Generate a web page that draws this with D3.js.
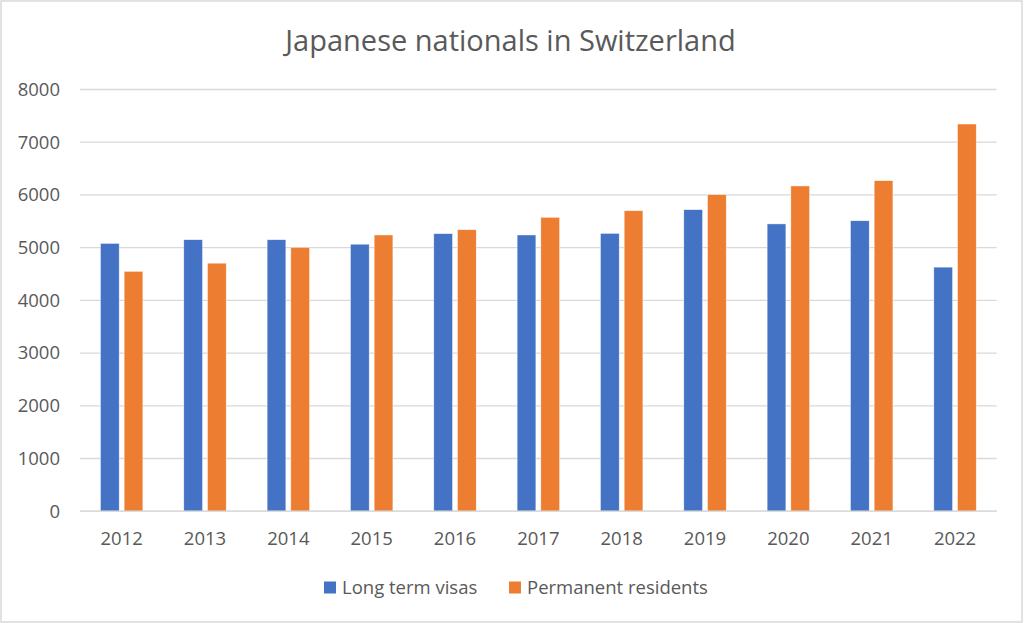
<!DOCTYPE html>
<html>
<head>
<meta charset="utf-8">
<script src="https://cdn.jsdelivr.net/npm/d3@7"></script>
<style>
  body { margin: 0; background: #fff; }
  svg text { font-family: "Open Sans", "Liberation Sans", sans-serif; fill: #595959; }
</style>
</head>
<body>
<svg id="chart" width="1024" height="623"></svg>
<script>
// data
var years = ["2012", "2013", "2014", "2015", "2016", "2017", "2018", "2019", "2020", "2021", "2022"];
var longTermVisas = [5080, 5150, 5150, 5065, 5265, 5240, 5270, 5720, 5450, 5510, 4630];
var permanentResidents = [4550, 4705, 5005, 5240, 5340, 5575, 5700, 6005, 6170, 6270, 7345];
var seriesNames = ["Long term visas", "Permanent residents"];
var seriesColors = ["#4472C4", "#ED7D31"];
var yTicks = [0, 1000, 2000, 3000, 4000, 5000, 6000, 7000, 8000];

var svg = d3.select("#chart");
var plotLeft = 80, plotRight = 996.7, plotTop = 89.5, plotBottom = 511.2;

// outer frame
svg.append("rect")
  .attr("x", 1).attr("y", 1).attr("width", 1021).attr("height", 621)
  .style("fill", "#fff").style("stroke", "#d9d9d9").style("stroke-width", 1.5);

// title
svg.append("text")
  .attr("x", 510.5).attr("y", 51)
  .attr("text-anchor", "middle")
  .style("font-size", "29px")
  .text("Japanese nationals in Switzerland");

var x0 = d3.scaleBand().domain(years).range([plotLeft, plotRight])
  .paddingInner(0.491).paddingOuter(0.2455);
var x1 = d3.scaleBand().domain(seriesNames).range([0, x0.bandwidth()]).paddingInner(0.21);
var y = d3.scaleLinear().domain([0, 8000]).range([plotBottom, plotTop]);

// gridlines
svg.append("g").selectAll("line")
  .data(yTicks)
  .enter().append("line")
  .attr("x1", plotLeft).attr("x2", plotRight)
  .attr("y1", function (d) { return y(d); })
  .attr("y2", function (d) { return y(d); })
  .style("stroke", "#d9d9d9").style("stroke-width", 1.3);

// y labels
var yAxis = d3.axisLeft(y).tickValues(yTicks).tickSize(0).tickPadding(0).tickFormat(d3.format("d"));
var gy = svg.append("g").attr("transform", "translate(60,0)").call(yAxis);
gy.select(".domain").remove();
gy.selectAll("text").style("font-size", "18.5px").style("fill", "#595959")
  .style("font-family", "\"Open Sans\", sans-serif");

// bars
var rows = years.map(function (yr, i) {
  return { year: yr, values: [longTermVisas[i], permanentResidents[i]] };
});

var groups = svg.append("g").selectAll("g")
  .data(rows)
  .enter().append("g")
  .attr("transform", function (d) { return "translate(" + x0(d.year) + ",0)"; });

groups.selectAll("rect")
  .data(function (d) { return d.values.map(function (v, j) { return { name: seriesNames[j], value: v, color: seriesColors[j] }; }); })
  .enter().append("rect")
  .attr("x", function (d) { return x1(d.name); })
  .attr("width", x1.bandwidth())
  .attr("y", function (d) { return y(d.value); })
  .attr("height", function (d) { return y(0) - y(d.value); })
  .style("fill", function (d) { return d.color; })
  .style("stroke", "#fff").style("stroke-width", 0.6).style("stroke-opacity", 0.7);

// x labels
var xAxis = d3.axisBottom(x0).tickSize(0).tickPadding(0);
var gx = svg.append("g").attr("transform", "translate(0,545)").call(xAxis);
gx.select(".domain").remove();
gx.selectAll("text").attr("dy", 0).style("font-size", "18.5px").style("fill", "#595959")
  .style("font-family", "\"Open Sans\", sans-serif");

// baseline axis
svg.append("line")
  .attr("x1", plotLeft).attr("x2", plotRight).attr("y1", y(0)).attr("y2", y(0))
  .style("stroke", "#d9d9d9").style("stroke-width", 1.3);

// legend
var legendX = [324, 509];
var legend = svg.append("g").selectAll("g")
  .data(seriesNames)
  .enter().append("g")
  .attr("transform", function (d, i) { return "translate(" + legendX[i] + ",581.5)"; });
legend.append("rect")
  .attr("width", 12).attr("height", 12)
  .style("fill", function (d, i) { return seriesColors[i]; });
legend.append("text")
  .attr("x", 18).attr("y", 12.5)
  .style("font-size", "18.5px")
  .text(function (d) { return d; });
</script>
</body>
</html>
